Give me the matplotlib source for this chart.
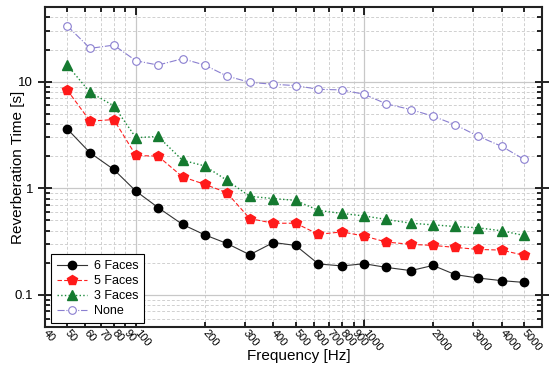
import matplotlib.pyplot as plt
from matplotlib.ticker import FixedLocator, FixedFormatter

plt.rcParams['font.family'] = ['Liberation Sans', 'DejaVu Sans']

# third-octave band centres
freq = [50, 63, 80, 100, 125, 160, 200, 250, 315, 400, 500, 630, 800,
        1000, 1250, 1600, 2000, 2500, 3150, 4000, 5000]

faces6 = [3.61, 2.15, 1.5, 0.94, 0.66, 0.458, 0.366, 0.304, 0.238, 0.31, 0.291,
          0.195, 0.187, 0.196, 0.181, 0.169, 0.189, 0.155, 0.144, 0.136, 0.131]
faces5 = [8.36, 4.26, 4.41, 2.03, 2.0, 1.28, 1.09, 0.91, 0.52, 0.47, 0.47,
          0.37, 0.39, 0.356, 0.313, 0.298, 0.291, 0.279, 0.267, 0.263, 0.235]
faces3 = [14.3, 7.94, 5.93, 2.98, 3.06, 1.83, 1.62, 1.19, 0.84, 0.80, 0.77,
          0.62, 0.58, 0.55, 0.51, 0.47, 0.454, 0.438, 0.426, 0.399, 0.361]
none = [33.4, 20.5, 22.0, 15.7, 14.3, 16.4, 14.3, 11.3, 9.85, 9.44, 9.18,
        8.47, 8.36, 7.6, 6.18, 5.47, 4.74, 3.94, 3.08, 2.47, 1.87]

xmajor = [100, 1000]
xminor = [40, 50, 60, 70, 80, 90, 200, 300, 400, 500, 600, 700, 800, 900,
          2000, 3000, 4000, 5000]

fig = plt.figure(figsize=(5.51, 3.69), dpi=100)
ax = fig.add_axes([0.0817, 0.1138, 0.902, 0.867])

ax.plot(freq, faces6, '-', color='#333333', lw=0.8, marker='o', ms=6,
        mfc='black', mec='black', label='6 Faces')
ax.plot(freq, faces5, '--', color='#ff2020', lw=0.8, dashes=(4, 2), marker='p', ms=7,
        mfc='#ff1a1a', mec='#ff1a1a', label='5 Faces')
ax.plot(freq, faces3, ':', color='#1b8a3a', lw=1.0, marker='^', ms=6.5,
        mfc='#157a30', mec='#157a30', label='3 Faces')
ax.plot(freq, none, '-.', color='#8a7fd0', lw=0.8, marker='o', ms=5.5,
        mfc='white', mec='#8a7fd0', mew=0.8, label='None')

ax.set_xscale('log')
ax.set_yscale('log')
ax.set_xlim(40, 6000)
ax.set_ylim(0.05, 50)

ax.xaxis.set_major_locator(FixedLocator(xmajor))
ax.xaxis.set_major_formatter(FixedFormatter([str(v) for v in xmajor]))
ax.xaxis.set_minor_locator(FixedLocator(xminor))
ax.xaxis.set_minor_formatter(FixedFormatter([str(v) for v in xminor]))
ax.set_yticks([0.1, 1, 10])
ax.set_yticklabels(['0.1', '1', '10'])

ax.tick_params(which='both', direction='in', top=True, right=True, width=1.2)
ax.tick_params(which='major', length=6)
ax.tick_params(which='minor', length=3.5)
ax.tick_params(axis='y', which='major', direction='inout', length=10, labelsize=9.5)
ax.tick_params(axis='x', which='both', pad=3)

for lab in ax.get_xticklabels(which='both'):
    lab.set_rotation(-50)
    lab.set_ha('left')
    lab.set_va('center')
    lab.set_rotation_mode('anchor')
    lab.set_fontsize(8)

ax.grid(True, which='major', color='#c8c8c8', lw=0.9, ls='-')
ax.grid(True, which='minor', color='#d0d0d0', lw=0.7, ls=(0, (3, 2)))

for s in ax.spines.values():
    s.set_linewidth(1.5)
    s.set_color('#222222')

ax.set_xlabel('Frequency [Hz]', fontsize=11)
ax.set_ylabel('Reverberation Time [s]', fontsize=11)
ax.xaxis.set_label_coords(0.511, -0.069)
ax.yaxis.set_label_coords(-0.040, 0.5)

leg = ax.legend(loc='lower left', fontsize=9, frameon=True, fancybox=False,
                edgecolor='black', framealpha=1, borderpad=0.45,
                handlelength=2.4, handletextpad=0.6, labelspacing=0.25,
                bbox_to_anchor=(0.012, 0.0125), borderaxespad=0)
leg.get_frame().set_linewidth(0.8)

fig.savefig('out.png', dpi=100)
